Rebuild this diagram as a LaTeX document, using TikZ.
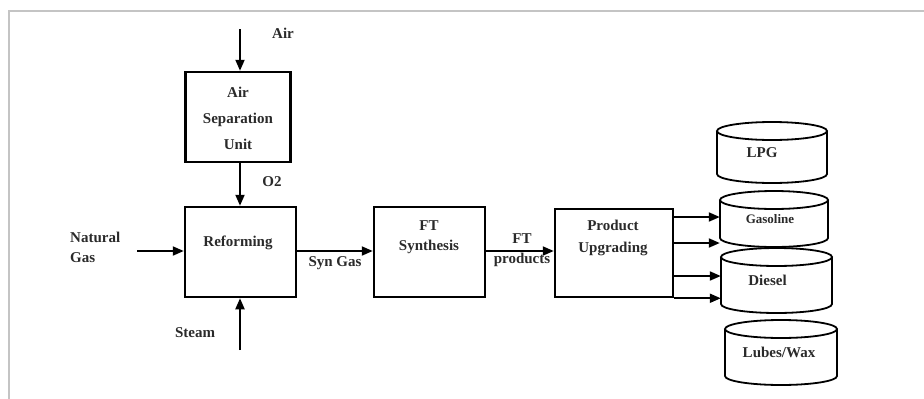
\documentclass[tikz,border=0pt]{standalone}
\usepackage{fontspec}
\setmainfont{Liberation Serif}
\usetikzlibrary{arrows.meta,positioning}
\definecolor{framegray}{HTML}{C4C4C4}
\definecolor{inkgray}{HTML}{2A2A2A}

% storage tank: name, cx, top, bottom, half width, text options, text
\newcommand{\tank}[7]{%
  \draw[tankline] ({#2-#5},{#3+9}) -- ({#2-#5},{#4-9})
    arc[start angle=180, end angle=0, x radius=#5, y radius=9] -- ({#2+#5},{#3+9});
  \draw[tankline] (#2,{#3+9}) ellipse [x radius=#5, y radius=9];
  \node[tankbody, minimum width={2*#5}, minimum height={#4-#3-18}] (#1) at (#2,{(#3+#4)/2+4}) {};
  \node[txt, #6] at (#2,{(#3+#4)/2}) {#7};
}

\tikzset{
  txt/.style={text=inkgray, font=\fontsize{15}{20}\selectfont\bfseries, inner sep=0pt},
  blk/.style={draw, line width=2.5pt, inner sep=0pt},
  flow/.style={line width=2pt, -{Triangle[length=11pt,width=9pt]}},
  tankline/.style={line width=1.8pt},
  tankbody/.style={inner sep=0pt}
}

\begin{document}
\begin{tikzpicture}[x=1pt, y=-1pt]
\useasboundingbox (0,0) rectangle (924,399);

% frame
\draw[framegray, line width=1.5pt] (9,399) -- (9,11) -- (924,11);

% process blocks
\node[blk, minimum width=105pt, minimum height=90pt] (asu) at (238,117) {};
\node[blk, minimum width=111pt, minimum height=90pt] (reform) at (240.5,252) {};
\node[blk, minimum width=111pt, minimum height=90pt] (fts) at (429.5,252) {};
\node[blk, minimum width=118pt, minimum height=88pt] (upgrade) at (614,253) {};

% block texts
\node[txt, align=center] at (238,118) {Air\\[6pt]Separation\\[6pt]Unit};
\node[txt] at (238,243) {Reforming};
\node[txt, align=center] at (429,237) {FT\\Synthesis};
\node[txt, align=center] at (613,238) {Product\\[2pt]Upgrading};

% feeds
\coordinate (airin) at (240,29);
\coordinate (ngin) at (137,251);
\coordinate (steamin) at (240,350);
\draw[flow] (airin) -- (airin |- asu.north);
\draw[flow] (asu.south -| airin) -- (reform.north -| airin);
\draw[flow] (ngin) -- (ngin -| reform.west);
\draw[flow] (steamin) -- (steamin |- reform.south);
\draw[flow] (reform.east |- ngin) -- (fts.west |- ngin);
\draw[flow] (fts.east |- ngin) -- (upgrade.west |- ngin);

% stream labels
\node[txt] at (283,33) {Air};
\node[txt] at (272,182) {O2};
\node[txt, align=left, anchor=west] at (70,247) {Natural\\Gas};
\node[txt] at (195,333) {Steam};
\node[txt] at (335,263) {Syn Gas};
\node[txt, align=center] at (522,250) {FT\\products};

% product tanks
\tank{lpg}{772}{122}{183}{55}{xshift=-10pt}{LPG}
\tank{gasoline}{774}{191}{247}{54}{xshift=-4pt, font=\fontsize{13}{16}\selectfont\bfseries}{Gasoline}
\tank{diesel}{776.5}{248}{313}{55.5}{xshift=-9pt}{Diesel}
\tank{lubes}{781}{320}{385}{56}{xshift=-2pt}{Lubes/Wax}

% products out
\draw[flow] (upgrade.east |- 0,217) -- (gasoline.west |- 0,217);
\draw[flow] (upgrade.east |- 0,243) -- (gasoline.west |- 0,243);
\draw[flow] (upgrade.east |- 0,276) -- (diesel.west |- 0,276);
\draw[flow] (upgrade.south east) -- (diesel.west |- upgrade.south east);

\end{tikzpicture}
\end{document}
